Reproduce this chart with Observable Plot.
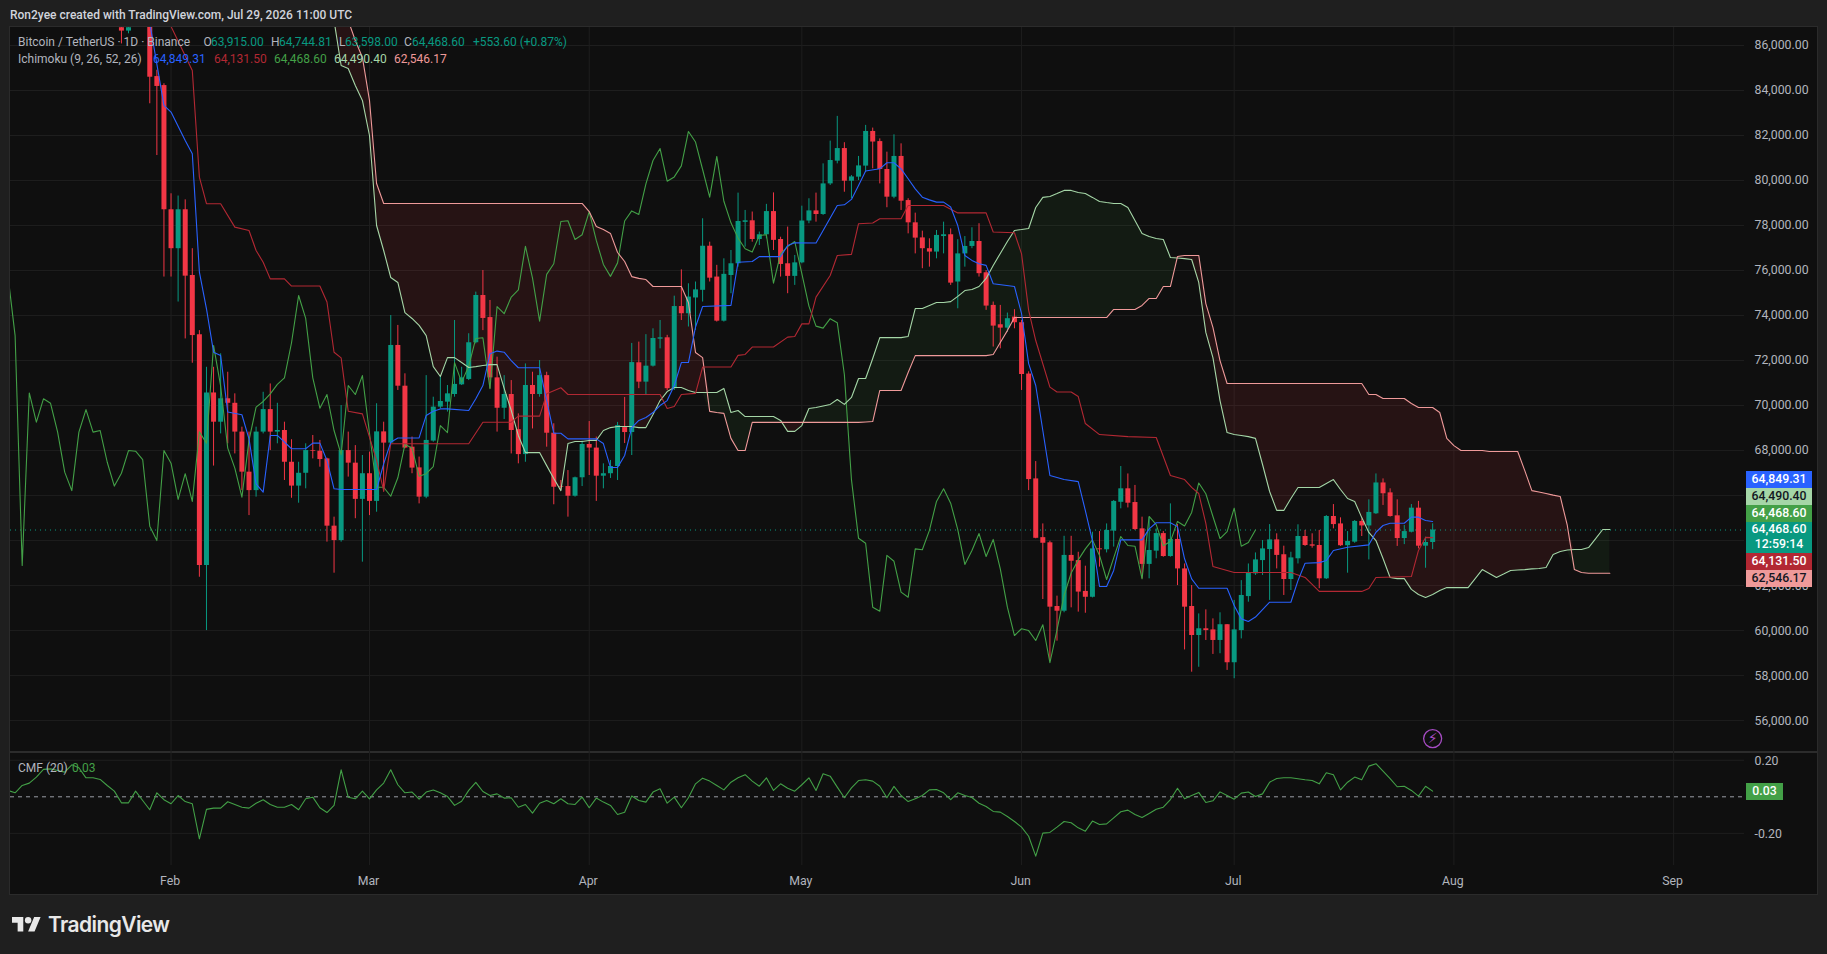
<!DOCTYPE html>
<html><head><meta charset="utf-8">
<script src="https://cdn.jsdelivr.net/npm/d3@7"></script>
<script src="https://cdn.jsdelivr.net/npm/@observablehq/plot@0.6"></script>
<style>
html,body{margin:0;padding:0;background:#1f1f1f;width:1827px;height:954px;overflow:hidden;font-family:Roboto,sans-serif}
#root{position:absolute;left:0;top:0;width:1827px;height:954px}
.abs{position:absolute;white-space:nowrap}
#panel{position:absolute;left:9px;top:26px;width:1807px;height:867px;background:#0f0f0f;border:1px solid #2b2b2b}
#sep{position:absolute;left:10px;top:751px;width:1807px;height:2px;background:#2c2c2c}
.t{font-size:12px;line-height:14px;color:#b2b5be}
.price{position:absolute;left:1746px;width:66px;text-align:center;font-size:12.3px;line-height:17px;font-weight:500}
svg{position:absolute;overflow:visible}
</style></head><body><div id="root">
<div id="panel"></div>
<div id="pricePane"></div>
<div id="sep"></div>
<div id="cmfPane"></div>
</div>
<script>
// Day numbers are counted from 1 Feb 2026
const firstCandleDay = -7;
const opens = [
86790,86640,87500,88200,87500,84620,84220,78700,76970,78700,
75780,73150,62890,70560,69260,70300,70100,68820,67040,66220,
68820,69820,68820,68890,67480,66420,66990,68000,67970,67630,
64640,64000,68000,67440,65830,66970,65740,68830,68330,72670,
70860,68150,67230,65930,68420,69930,70150,70490,70920,71160,
72790,74890,73910,71230,69880,70490,68930,67820,70890,70490,
71330,68770,66400,66400,65970,66790,68270,68110,66860,66970,
67290,69020,68800,71900,71040,71750,72950,73010,70750,74400,
74080,74780,75120,77080,75710,73750,75780,76300,78140,78210,
77380,77590,78620,77380,76300,75740,76340,78200,78650,78490,
79850,80860,81420,79970,80150,80640,82180,81730,80490,79260,
81070,79110,78120,77450,76970,76820,77510,77590,75490,76740,
77070,77290,75900,74450,73590,73440,73930,73680,71400,66740,
64130,63900,61070,60860,63340,63110,61740,61480,63630,63590,
64420,65700,66300,65690,64520,62940,63530,64310,63290,64050,
62740,61070,59780,60080,60030,59560,60260,58570,60000,61510,
62520,63110,63600,64030,63370,62270,63190,64180,63810,63780,
62300,65070,64740,63770,63930,64850,64650,65190,66560,66120,
65100,64090,64370,65440,63750,63915];
const highs = [
86820,86820,88500,88700,88000,84900,84300,79410,79310,79140,
76970,73330,71700,71700,72300,71480,70520,69040,68820,69040,
70590,70960,70100,69260,68480,67480,68300,68670,68450,67660,
65040,70000,68820,68220,67780,67930,70080,69260,74000,73560,
71410,68600,67710,71330,70370,71330,70890,73780,71700,73190,
75040,76000,74670,72150,71330,71110,69630,71850,71480,72000,
71480,69190,66670,67110,66820,68420,69290,68600,67410,67560,
69250,70360,72760,72820,73150,73410,73780,73120,74860,76030,
75410,75490,78300,77260,76230,76520,76890,79440,78670,78600,
77710,78940,79450,77480,77930,76670,78860,79190,79440,80740,
81750,82850,81680,80220,81070,82450,82330,81850,81260,82030,
81630,79190,78550,77750,77410,77780,78150,77850,77370,77510,
77900,78080,76000,74600,74450,74110,74260,73780,71500,67510,
64740,63970,61530,64190,64190,63480,62860,64370,64400,64740,
65780,67290,66960,66450,65040,65040,64520,64400,65630,64710,
62960,62000,60740,60920,60520,60790,60270,61340,62220,62960,
63450,64000,64710,64300,63750,63480,64700,64450,64300,64450,
65110,65600,65010,64400,64890,64960,65810,66960,66740,66300,
65810,64670,65600,65740,64150,64744.81];
const lows = [
86070,86520,87300,87100,83410,81110,75710,75710,74600,72960,
71880,62370,60000,67310,68740,68300,67850,66220,65110,65930,
68740,68000,68300,66670,65880,65660,66300,67630,67260,63930,
62550,63930,66820,64970,63040,65110,65260,66150,68300,70670,
68080,66970,65630,65860,68370,69850,69710,70370,70890,71110,
72740,73330,70740,68820,69380,67850,67410,67480,68960,70370,
68150,65590,66220,65040,65930,66400,66890,65740,66300,66760,
66670,68310,67780,70750,70450,71710,72520,70670,70670,73780,
73490,73340,74600,75490,73710,73710,74970,76150,77040,77260,
77110,77410,76890,75710,74970,75340,76300,78080,78150,78450,
79780,80740,79480,79190,80000,80370,80520,79850,78790,79190,
78670,77630,76740,76080,76150,76520,76740,75340,74300,76150,
76970,75710,74230,72600,72520,73260,73410,70670,66220,64080,
61380,58670,59530,60790,61010,60820,60770,61450,62820,63450,
63710,65410,65450,64450,62300,62300,63190,63260,63260,62000,
59140,58150,58370,59560,58940,58970,58230,57860,59630,61260,
62450,62450,61340,62740,61560,61780,62960,63740,63660,61860,
62270,64520,63740,62550,63880,64180,63140,65160,65560,65040,
63740,63820,64340,63630,62770,63598];
const closes = [
86640,86790,88200,87500,84590,84180,78700,76970,78700,75750,
73110,62890,70560,69260,70300,70100,68820,67040,66220,68820,
69820,68820,68890,67480,66420,66990,68000,67970,67600,64640,
64000,68000,67440,65830,66970,65740,68830,68330,72670,70860,
68110,67220,65930,68450,69930,70180,70520,70940,71230,72790,
74890,73870,71230,69880,70490,68890,67820,70890,70490,71330,
68770,66370,66370,65970,66790,68270,68110,66860,66970,67290,
69110,68800,71910,71040,71750,72980,73010,70750,74400,74080,
74820,75140,77080,75660,73750,75830,76300,78180,78210,77380,
77590,78620,77340,76270,75740,76340,78200,78650,78490,79850,
80890,81420,79970,80160,80650,82180,81710,80490,79260,81070,
79080,78120,77440,76970,76820,77560,77590,75440,76740,77070,
77290,75860,74420,73530,73440,73860,73680,71380,66710,64100,
63880,61040,60860,63340,63080,61710,61480,63630,63590,64450,
65740,66300,65660,64490,62940,63560,64310,63290,64050,62740,
61040,59780,60080,60000,59560,60260,58570,60030,61560,62560,
63140,63630,64030,63340,62270,63230,64180,63780,63750,62300,
65070,64710,63770,63960,64850,64650,65250,66560,66080,65070,
64090,64400,65440,63750,63915,64468.6];

const tenkanDays = [-3,-1,0,2,3,4,5,6,7,8,10,11,12,13,14,15,17,19,20,21,22,23,24,27,29,30,31,32,35,36,37,38,39,42,43,44,45,46,47,48,49,52,53,54,55,56,60,61,62,63,64,65,66,67,68,69,70,71,72,73,74,75,79,80,82,83,86,87,88,91,94,95,96,97,98,100,101,102,103,104,105,106,107,108,109,110,111,112,113,114,115,116,119,120,121,122,123,124,126,128,129,130,131,132,133,134,137,138,139,141,142,143,144,145,149,150,151,152,153,155,158,159,160,162,163,164,166,169,170,171,172,174,175,176,177,178];
const tenkanValues = [87000,83340,83040,81780,81190,75930,74300,72370,72220,69710,69590,68520,66520,66150,68670,68670,68080,68080,68330,68330,67560,66300,66270,66270,66270,67410,68370,68560,68560,69560,69750,69850,69850,69780,70300,70890,72300,72420,72370,72000,71680,71680,70220,68770,68770,68520,68520,68310,67250,67250,67780,69020,69340,69470,69690,70000,70220,70890,71910,71910,73490,74400,74450,76370,76400,76620,76620,77110,77230,77220,78890,78920,79160,79780,80420,80520,80790,80790,80520,80080,79630,79260,79140,79040,79040,78820,78000,76670,76450,76300,76230,75410,75290,74080,71860,70890,68890,66890,66710,66620,65330,64000,61960,61960,62670,64030,64030,64520,64790,64790,64620,63190,62300,61880,61880,61110,60520,60400,60600,61260,61260,62220,62990,63020,63110,63560,63700,63810,64370,64670,64770,64770,65040,65040,64890,64849.31];

const kijunDays = [-1,3,4,5,7,9,11,12,13,14,16,17,21,22,23,24,25,27,29,30,31,42,44,48,49,52,53,55,56,69,70,71,72,74,75,79,80,81,82,85,87,88,89,90,91,93,94,96,97,99,100,103,104,109,111,115,116,119,120,121,122,124,125,127,128,129,131,135,139,141,143,144,145,146,147,149,150,158,160,162,168,169,170,175,176,177,178];
const kijunValues = [87500,84890,80150,78970,78970,77930,77780,76890,76370,75630,75630,75310,75310,74600,72370,72120,69750,69630,67560,66220,68300,68300,69260,69260,69530,69530,70520,70790,70490,70490,69870,69960,70490,70540,71710,71710,72230,72270,72600,72600,73040,73070,73630,73630,74820,75780,76670,76720,78080,78110,78300,78300,78890,78890,78560,78560,77710,77680,76740,74230,72890,70820,70600,70600,70400,69200,68710,68620,68580,66890,66710,66360,66090,64760,62850,62670,62580,62580,62360,61740,61740,61870,62360,62400,63560,64140,64131.5];

const cloudFirstDay = 23;
const senkouA = [
87110,85110,84980,84220,83560,82000,78000,76890,75690,75470,
74130,73870,73560,73110,71730,71290,72130,72130,71910,71690,
71730,71780,71820,71820,70760,69780,68670,67910,67910,67910,
67330,66760,66220,68310,68400,68400,68450,68450,68890,69020,
69070,69070,69070,69020,69020,69600,70220,70620,70800,70800,
70670,70580,70580,70580,70580,70760,69690,69780,69510,69510,
69510,69510,69510,69340,68850,68850,69110,69870,69910,69980,
70050,70270,70050,70360,71200,71200,72090,73020,73020,73020,
73020,73070,74310,74310,74450,74580,74580,74620,74850,75110,
75160,75290,75650,76220,76760,77290,77780,77820,77870,78800,
79250,79290,79420,79560,79560,79470,79420,79250,79070,79020,
78980,78980,78800,78220,77650,77510,77420,77380,76580,76560,
76530,76490,75470,73250,72130,70220,68800,68710,68670,68620,
68540,67380,66180,65340,65340,65870,66360,66360,66360,66360,
66540,66710,66270,65870,65740,65020,64360,64000,63200,62360,
62310,62310,61830,61600,61470,61600,61780,61910,61910,61910,
61910,62310,62710,62540,62360,62510,62670,62690,62710,62740,
62760,62800,63380,63510,63580,63600,63600,63690,64090,64490,
64490.4];
const senkouB = [
88500,88000,87110,86220,85470,83560,79870,78980,78980,78980,
78980,78980,78980,78980,78980,78980,78980,78980,78980,78980,
78980,78980,78980,78980,78980,78980,78980,78980,78980,78980,
78980,78980,78980,78980,78980,78980,78620,77960,77820,77650,
76800,76400,75730,75650,75600,75290,75290,75290,75290,75290,
74580,72360,72130,69740,69690,69650,68540,68000,68000,69250,
69250,69250,69250,69250,69250,69250,69250,69250,69250,69250,
69250,69250,69250,69250,69250,69270,69290,70670,70670,70670,
70670,71470,72220,72220,72220,72220,72220,72220,72220,72220,
72220,72220,72220,72270,72800,73330,73910,73910,73910,73910,
73910,73910,73910,73910,73910,73910,73910,73910,73910,73910,
74270,74270,74270,74270,74450,74760,74760,75290,75290,76620,
76670,76670,76670,74530,73470,72000,70980,70980,70980,70980,
70980,70980,70980,70980,70980,70980,70980,70980,70980,70980,
70980,70980,70980,70980,70980,70980,70490,70490,70310,70310,
70310,70310,70090,69910,69910,69910,69690,68540,68220,68000,
68000,68000,68000,67960,67960,67960,67960,67960,67110,66220,
66160,66090,66020,65960,64670,62710,62580,62546,62546,62546,
62546.17];

const cmfFirstDay = -23;
const cmfValues = [
.035,.022,.062,.075,.108,.150,.153,.144,.135,.175,
.159,.104,.104,.095,.062,.031,-.033,-.033,.031,-.020,
-.071,.022,-.016,-.038,.007,-.026,-.038,-.230,-.069,-.062,
-.062,-.027,-.042,-.057,-.062,-.035,-.016,-.042,-.057,-.057,
-.042,-.071,-.011,-.002,-.060,-.086,-.047,.148,-.002,-.011,
.031,-.011,.038,.075,.148,.066,.022,.026,-.013,.026,
.037,.022,.002,-.047,-.024,.035,.079,.029,.007,.016,
-.007,-.005,-.057,-.042,-.089,-.035,-.020,-.038,-.011,-.038,
-.042,-.002,-.060,-.007,-.029,-.047,-.097,-.084,.004,-.020,
-.029,.026,.044,-.035,-.002,-.060,-.005,.071,.102,.086,
.062,.038,.080,.104,.121,.086,.058,.104,.035,.071,
.047,.031,.066,.104,.035,.126,.113,.053,-.005,.049,
.089,.093,.086,.058,-.005,.057,.007,-.026,-.011,.007,
.038,.040,.022,-.016,.022,.007,-.004,-.035,-.053,-.080,
-.084,-.108,-.135,-.166,-.216,-.325,-.199,-.195,-.166,-.135,
-.142,-.170,-.188,-.133,-.152,-.148,-.115,-.082,-.073,-.097,
-.113,-.091,-.068,-.057,-.015,.047,-.011,.007,.024,-.031,
-.022,.027,.007,-.013,.020,.026,.002,.016,.080,.100,
.104,.104,.099,.093,.089,.071,.132,.121,.038,.080,
.108,.093,.168,.181,.141,.099,.055,.058,.035,.004,
.058,.031];

const priceTicks = d3.range(56000, 86001, 2000);
const priceTickLabels = [56000,58000,60000,62000,68000,70000,72000,74000,76000,78000,80000,82000,84000,86000];
const cmfTicks = [0.2, -0.2];
const monthDays = [0, 28, 59, 89, 120, 150, 181, 212];
const monthNames = ["Feb","Mar","Apr","May","Jun","Jul","Aug","Sep"];
const lastPrice = 64468.6;
const alertPrice = 55200;
const alertDay = 178;
const laggingShift = 25;

const UP = "#089981", DOWN = "#f23645";
const GRID = "#1e1e1e", TEXT = "#b2b5be";

const date = k => new Date(Date.UTC(2026, 1, 1) + k * 864e5);
const monthDates = monthDays.map(date);
const xDomain = [date(-22.65), date(222)];

const candles = opens.map((o, i) => ({date: date(firstCandleDay + i), o, h: highs[i], l: lows[i], c: closes[i]}));
const up = candles.filter(d => d.c >= d.o), down = candles.filter(d => d.c < d.o);
const lagging = closes.map((c, i) => ({date: date(firstCandleDay + i - laggingShift), v: c}));
const tenkan = tenkanDays.map((k, i) => ({date: date(k), v: tenkanValues[i]}));
const kijun = kijunDays.map((k, i) => ({date: date(k), v: kijunValues[i]}));
const cloud = senkouA.map((a, i) => ({date: date(cloudFirstDay + i), a, b: senkouB[i]}));
const cmf = cmfValues.map((v, i) => ({date: date(cmfFirstDay + i), v}));

const candleMarks = (rows, color) => [
  Plot.ruleX(rows, {x: "date", y1: "l", y2: "h", stroke: color, strokeWidth: 1, clip: true}),
  Plot.ruleX(rows, {x: "date", y1: "o", y2: "c", stroke: color, strokeWidth: 5, clip: true})
];
const lineOf = (rows, color, w = 1.1) => Plot.line(rows, {x: "date", y: "v", stroke: color, strokeWidth: w, clip: true});

const main = Plot.plot({
  width: 1807, height: 724,
  marginLeft: 0, marginRight: 73, marginTop: 0, marginBottom: 0,
  style: {background: "transparent", fontFamily: "Roboto, sans-serif", fontSize: "12.3px"},
  x: {type: "utc", domain: xDomain, axis: null},
  y: {type: "linear", domain: [54626, 86800], axis: null},
  marks: [
    Plot.gridY(priceTicks, {stroke: GRID, strokeOpacity: 1}),
    Plot.gridX(monthDates, {stroke: GRID, strokeOpacity: 1}),
    Plot.axisY(priceTickLabels, {anchor: "right", tickSize: 0, tickPadding: 10, label: null, fill: TEXT, tickFormat: d3.format(",.2f")}),
    Plot.areaY(cloud, {x: "date", y1: "a", y2: d => Math.max(d.a, d.b), fill: "#f23645", fillOpacity: 0.1, clip: true}),
    Plot.areaY(cloud, {x: "date", y1: "a", y2: d => Math.min(d.a, d.b), fill: "#43a047", fillOpacity: 0.09, clip: true}),
    Plot.ruleY([lastPrice], {stroke: UP, strokeDasharray: "1,4", strokeWidth: 1}),
    ...candleMarks(up, UP),
    ...candleMarks(down, DOWN),
    lineOf(lagging, "#43a047"),
    lineOf(cloud.map(d => ({date: d.date, v: d.a})), "#a5d6a7"),
    lineOf(cloud.map(d => ({date: d.date, v: d.b})), "#ef9a9a"),
    lineOf(kijun, "#b22833"),
    lineOf(tenkan, "#2962ff"),
    Plot.dot([{date: date(alertDay), v: alertPrice}], {x: "date", y: "v", r: 9, stroke: "#a64cc4", strokeWidth: 1.3, fill: "none"}),
    Plot.text([{date: date(alertDay), v: alertPrice}], {x: "date", y: "v", text: () => "⚡", fill: "#a64cc4", fontSize: 14, fontFamily: "DejaVu Sans"})
  ]
});
main.style.left = "10px"; main.style.top = "27px";
document.getElementById("pricePane").appendChild(main);

const lower = Plot.plot({
  width: 1807, height: 142,
  marginLeft: 0, marginRight: 73, marginTop: 0, marginBottom: 28,
  style: {background: "transparent", fontFamily: "Roboto, sans-serif", fontSize: "12.3px"},
  x: {type: "utc", domain: xDomain, axis: null},
  y: {type: "linear", domain: [-0.376, 0.248], axis: null},
  marks: [
    Plot.gridY(cmfTicks, {stroke: GRID, strokeOpacity: 1}),
    Plot.gridX(monthDates, {stroke: GRID, strokeOpacity: 1}),
    Plot.axisY(cmfTicks, {anchor: "right", tickSize: 0, tickPadding: 10, dy: 1, label: null, fill: TEXT, tickFormat: d => d.toFixed(2)}),
    Plot.axisX(monthDates, {anchor: "bottom", tickSize: 0, tickPadding: 11, dx: -1, label: null, fill: TEXT, tickFormat: (d, i) => monthNames[i]}),
    Plot.ruleY([0], {stroke: "#9a9da5", strokeDasharray: "4,4", strokeWidth: 1}),
    lineOf(cmf, "#43a047")
  ]
});
lower.style.left = "10px"; lower.style.top = "751px";
document.getElementById("cmfPane").appendChild(lower);

// Header, legends, price labels and logo
const root = document.getElementById("root");
const addText = (x, y, txt, color, extra = "") => {
  const d = document.createElement("div");
  d.className = "abs t";
  d.style.cssText = `left:${x}px;top:${y}px;color:${color};${extra}`;
  d.textContent = txt;
  root.appendChild(d);
};
addText(10, 8, "Ron2yee created with TradingView.com, Jul 29, 2026 11:00 UTC", "#d1d4dc", "font-size:12px;line-height:14px;font-weight:500");
addText(18, 35, "Bitcoin / TetherUS · 1D · Binance", TEXT);
[[203.5,"O",211,"63,915.00"],[271,"H",279,"64,744.81"],[339,"L",345,"63,598.00"],[404,"C",412,"64,468.60"]].forEach(([x1,l,x2,v]) => {
  addText(x1, 35, l, TEXT);
  addText(x2, 35, v, UP);
});
addText(473, 35, "+553.60 (+0.87%)", UP);
addText(18, 52, "Ichimoku (9, 26, 52, 26)", TEXT);
[[153,"64,849.31","#2962ff"],[214,"64,131.50","#b22833"],[274,"64,468.60","#43a047"],[334,"64,490.40","#a5d6a7"],[394,"62,546.17","#ef9a9a"]].forEach(([x,v,c]) => addText(x, 52, v, c));
addText(18, 761, "CMF (20)", TEXT);
addText(72, 761, "0.03", "#43a047");

const labels = [
  ["64,849.31", "#2962ff", "#fff", 471, 17],
  ["64,490.40", "#a5d6a7", "#131722", 488, 17],
  ["64,468.60", "#43a047", "#fff", 505, 17],
  ["64,468.60\n12:59:14", "#089981", "#fff", 522, 31],
  ["64,131.50", "#b22833", "#fff", 553, 17],
  ["62,546.17", "#ef9a9a", "#131722", 570, 17]
];
labels.forEach(([txt, bg, fg, top, h]) => {
  const d = document.createElement("div");
  d.className = "price";
  d.style.cssText = `top:${top}px;height:${h}px;background:${bg};color:${fg};white-space:pre;line-height:${h > 20 ? 15 : 17}px`;
  d.textContent = txt;
  root.appendChild(d);
});
const cmfBox = document.createElement("div");
cmfBox.className = "price";
cmfBox.style.cssText = "left:1746px;width:37px;top:783px;height:17px;background:#43a047;color:#fff";
cmfBox.textContent = "0.03";
root.appendChild(cmfBox);

const logoNS = "http://www.w3.org/2000/svg";
const logo = document.createElementNS(logoNS, "svg");
logo.setAttribute("viewBox", "0 4 36 18");
logo.setAttribute("width", "29"); logo.setAttribute("height", "14.5");
logo.style.cssText = "left:12px;top:917px";
logo.innerHTML = '<path fill="#e8e8e8" d="M14 22H7V11H0V4h14v18zM28 22h-8l7.5-18h8L28 22z"/><circle fill="#e8e8e8" cx="20" cy="8" r="4"/>';
root.appendChild(logo);
addText(48, 912, "TradingView", "#e8e8e8", "font-size:21px;line-height:25px;font-weight:600;font-family:Inter,Roboto,sans-serif;letter-spacing:-.6px");
</script>
</body></html>
